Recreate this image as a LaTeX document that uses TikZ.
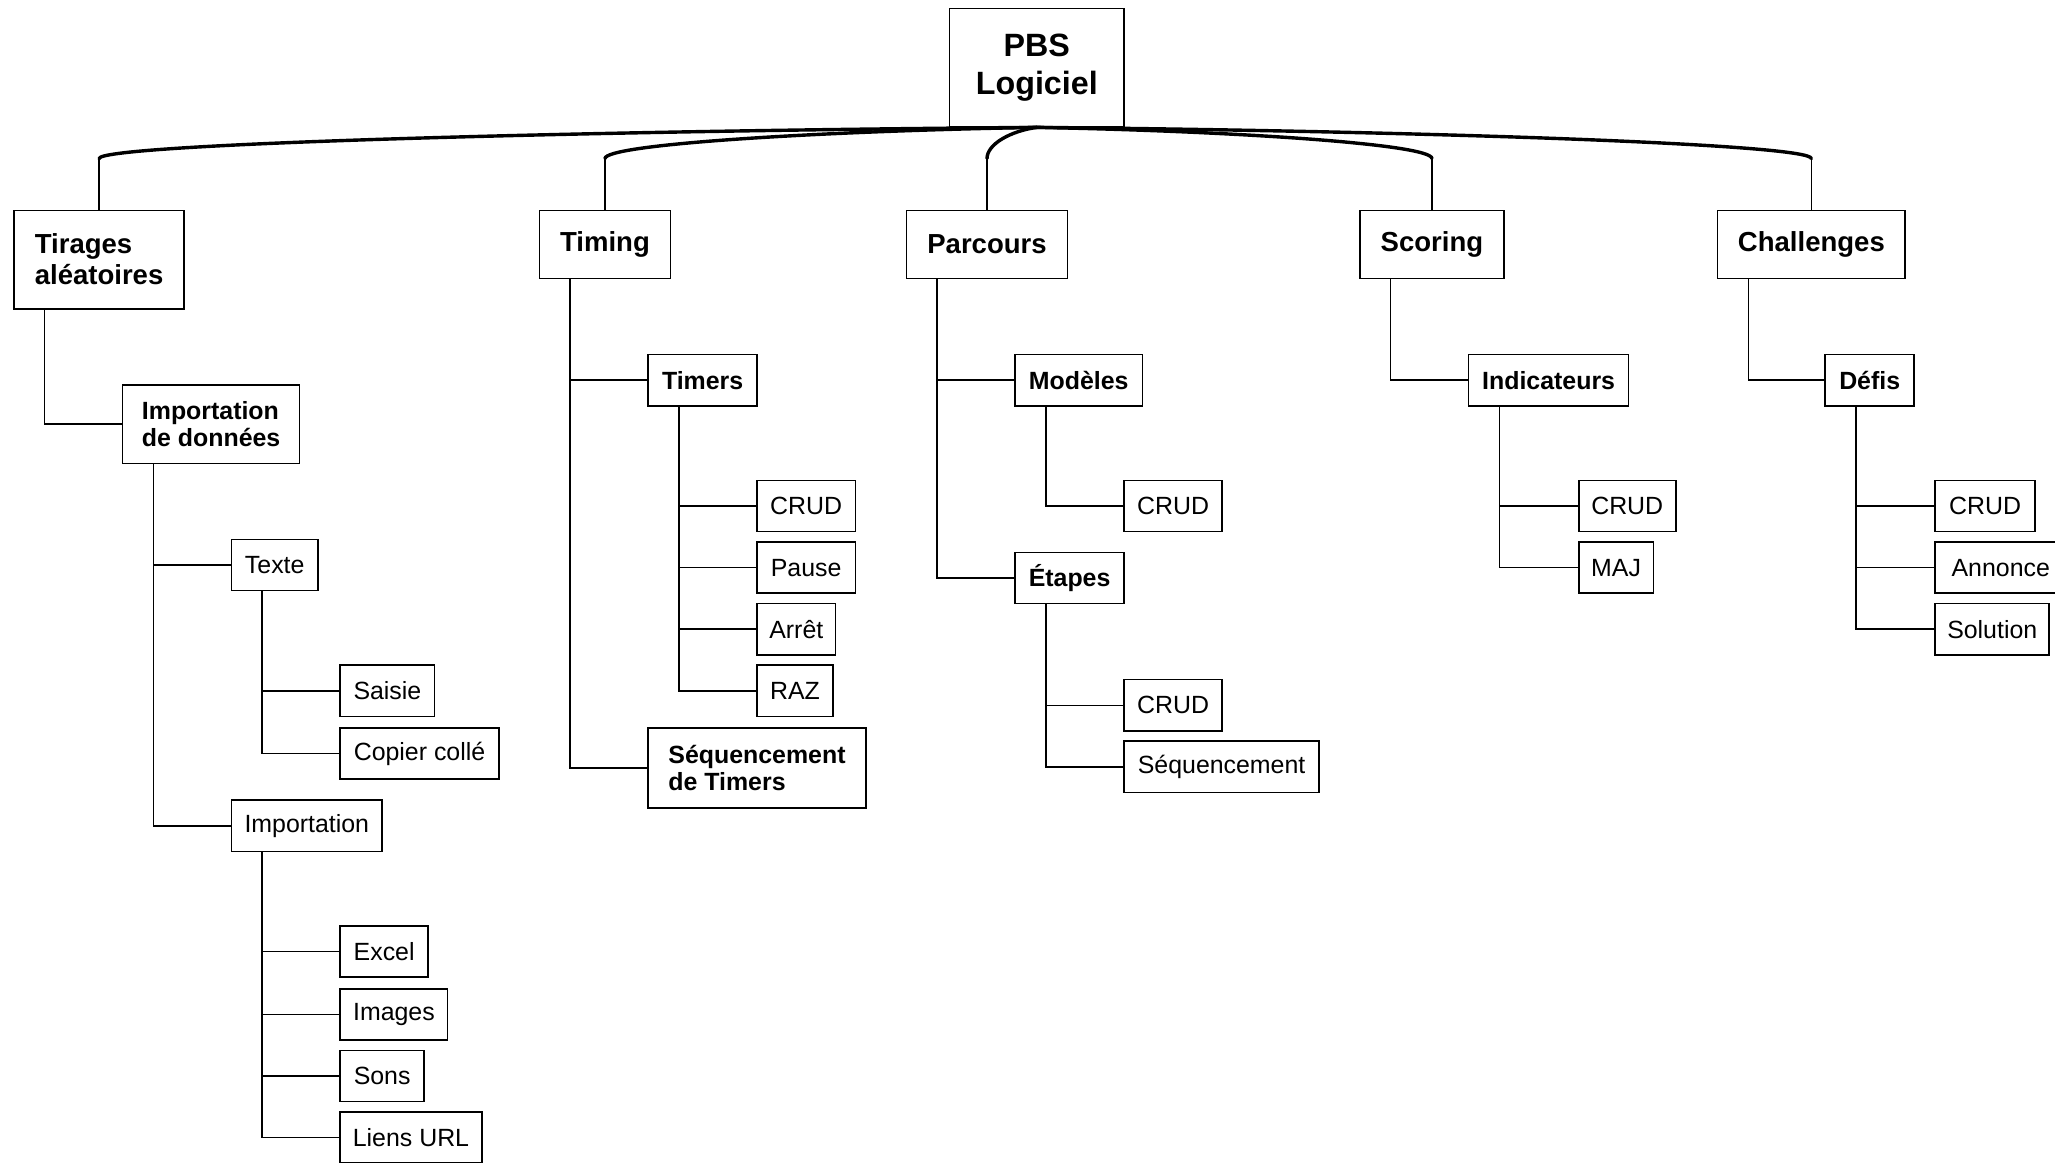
\documentclass[tikz,border=0pt]{standalone}
\usepackage{fontspec}
\setmainfont{Liberation Sans}
\begin{document}
\begin{tikzpicture}[x=0.5pt,y=-0.5pt,
  box/.style={draw, line width=0.6pt, anchor=north west, inner sep=0pt, align=center},
  leaf/.style={box, font=\fontsize{9.5}{10.5}\selectfont},
  mid/.style={box, font=\bfseries\fontsize{9.5}{10.4}\selectfont, align=left},
  topbox/.style={box, font=\bfseries\fontsize{10.5}{11.8}\selectfont, align=left},
  rootbox/.style={box, font=\bfseries\fontsize{12.3}{14.6}\selectfont},
  link/.style={line width=0.55pt},
  branch/.style={line width=1.3pt, line cap=round},
  sz/.style 2 args={minimum width=#1, minimum height=#2}]
\clip (0,0) rectangle (1568,887);

% root
\node[rootbox, sz={66.5pt}{45pt}] (root) at (724,6) {PBS\\Logiciel};

% first level
\node[topbox, sz={65pt}{37.5pt}]  (tir) at (10,160)   {Tirages\\aléatoires};
\node[topbox, sz={50pt}{26pt}]    (tim) at (411,160)  {Timing};
\node[topbox, sz={61.5pt}{26pt}]  (par) at (691,160)  {Parcours};
\node[topbox, sz={55pt}{26pt}]    (sco) at (1037,160) {Scoring};
\node[topbox, sz={71.5pt}{26pt}]  (cha) at (1310,160) {Challenges};

% second level
\node[mid, sz={67.5pt}{30pt}]   (imd) at (93,293)   {Importation\\de données};
\node[mid, sz={41.5pt}{19.5pt}] (tmr) at (494,270)  {Timers};
\node[mid, sz={83pt}{30.5pt}]   (seq) at (494,555)  {Séquencement\\de Timers};
\node[mid, sz={48.5pt}{19.5pt}] (mod) at (774,270)  {Modèles};
\node[mid, sz={41.5pt}{19.5pt}] (eta) at (774,421)  {Étapes};
\node[mid, sz={61pt}{19.5pt}]   (ind) at (1120,270) {Indicateurs};
\node[mid, sz={34pt}{19.5pt}]   (dfi) at (1392,270) {Défis};

% data import branch
\node[leaf, sz={33pt}{19.5pt}]   (txt) at (176,411) {Texte};
\node[leaf, sz={57.5pt}{19.5pt}] (imp) at (176,610) {Importation};
\node[leaf, sz={36pt}{19.5pt}]   (sai) at (259,507) {Saisie};
\node[leaf, sz={60.5pt}{19.5pt}] (cop) at (259,555) {Copier collé};
\node[leaf, sz={33.5pt}{19.5pt}] (exc) at (259,706) {Excel};
\node[leaf, sz={41pt}{19.5pt}]   (img) at (259,754) {Images};
\node[leaf, sz={32pt}{19.5pt}]   (son) at (259,801) {Sons};
\node[leaf, sz={54pt}{19.5pt}]   (url) at (259,848) {Liens URL};

% timers
\node[leaf, sz={37.5pt}{19.5pt}] (tcrud) at (577,366) {CRUD};
\node[leaf, sz={37.5pt}{19.5pt}] (pau)   at (577,413) {Pause};
\node[leaf, sz={30pt}{19.5pt}]   (arr)   at (577,460) {Arrêt};
\node[leaf, sz={29pt}{19.5pt}]   (raz)   at (577,507) {RAZ};

% paths
\node[leaf, sz={37.5pt}{19.5pt}] (mcrud) at (857,366) {CRUD};
\node[leaf, sz={37.5pt}{19.5pt}] (ecrud) at (857,518) {CRUD};
\node[leaf, sz={74.5pt}{19.5pt}] (eseq)  at (857,565) {Séquencement};

% scoring
\node[leaf, sz={37pt}{19.5pt}]   (icrud) at (1204,366) {CRUD};
\node[leaf, sz={28.5pt}{19.5pt}] (maj)   at (1204,413) {MAJ};

% challenges
\node[leaf, sz={38pt}{19.5pt}]   (dcrud) at (1476,366) {CRUD};
\node[leaf, sz={50pt}{19.5pt}]   (ann)   at (1476,413) {Annonce};
\node[leaf, sz={43.5pt}{19.5pt}] (sol)   at (1476,460) {Solution};

% curved links from the root
\coordinate (ya) at (0,110);
\coordinate (yb) at (0,121);
\foreach \c/\m in {tir/432, tim/626, par/771, sco/941, cha/1086}{
  \draw[branch] (root.south) .. controls (\m,100) and (\c.north |- ya) .. (\c.north |- yb);
  \draw[link] (\c.north |- yb) -- (\c.north);
}

% elbow links: vertical trunk 12pt inside the parent's left edge
\foreach \p/\k in {tir/imd, imd/txt, imd/imp, txt/sai, txt/cop,
                   imp/exc, imp/img, imp/son, imp/url,
                   tim/tmr, tim/seq, tmr/tcrud, tmr/pau, tmr/arr, tmr/raz,
                   par/mod, par/eta, mod/mcrud, eta/ecrud, eta/eseq,
                   sco/ind, ind/icrud, ind/maj,
                   cha/dfi, dfi/dcrud, dfi/ann, dfi/sol}{
  \draw[link] ([xshift=12pt]\p.south west) |- (\k.west);
}
\end{tikzpicture}
\end{document}
